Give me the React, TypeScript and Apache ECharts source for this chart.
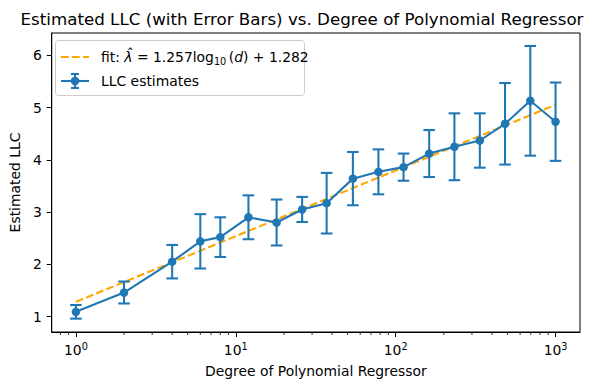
import React, { useEffect, useRef } from "react";
import * as echarts from "echarts";

// ---- data ----
const degrees = [1, 2, 4, 6, 8, 12, 18, 26, 37, 54, 78, 112, 162, 233, 336, 483, 695, 1000];
const llcValues = [1.09, 1.46, 2.05, 2.44, 2.52, 2.9, 2.8, 3.05, 3.17, 3.64, 3.77, 3.86, 4.12, 4.25, 4.37, 4.69, 5.13, 4.73];
const llcErrors = [0.13, 0.21, 0.32, 0.52, 0.38, 0.42, 0.44, 0.24, 0.58, 0.51, 0.43, 0.26, 0.45, 0.64, 0.52, 0.78, 1.05, 0.75];
const fitX = [1, 1000];
const fitY = [1.282, 5.053];
const minorTickValues = [0.8, 0.9, 2, 3, 4, 5, 6, 7, 8, 9, 20, 30, 40, 50, 60, 70, 80, 90, 200, 300, 400, 500, 600, 700, 800, 900];
const xMin = 0.706;
const xMax = 1422;
const yMin = 0.704;
const yMax = 6.428;

const BLUE = "#1f77b4";
const ORANGE = "#ffa500";
const FONT = "DejaVu Sans";

export default function App() {
  const ref = useRef<HTMLDivElement>(null);
  useEffect(() => {
    if (!ref.current) return;
    const chart = echarts.init(ref.current, null, { renderer: "svg" });
    const mainData = degrees.map((d, i) => [d, llcValues[i]]);
    const errData = degrees.map((d, i) => [d, llcValues[i] - llcErrors[i], llcValues[i] + llcErrors[i]]);
    const fitData = fitX.map((x, i) => [x, fitY[i]]);
    const minorData = minorTickValues.map((v) => [v, yMin]);

    chart.setOption({
      animation: false,
      backgroundColor: "#fff",
      textStyle: { fontFamily: FONT, color: "#000" },
      title: {
        text: "Estimated LLC (with Error Bars) vs. Degree of Polynomial Regressor",
        left: "center",
        top: 10,
        padding: [0, 0, 0, 24],
        textStyle: { fontFamily: FONT, fontSize: 16.7, fontWeight: "normal", color: "#000" },
      },
      grid: {
        left: 48,
        right: 24,
        top: 33,
        bottom: 58,
        show: true,
        borderColor: "#000",
        borderWidth: 1,
        backgroundColor: "transparent",
      },
      xAxis: {
        type: "log",
        logBase: 10,
        min: xMin,
        max: xMax,
        name: "Degree of Polynomial Regressor",
        nameLocation: "middle",
        nameGap: 32,
        nameTextStyle: { fontFamily: FONT, fontSize: 13.9, color: "#000" },
        axisLine: { show: true, lineStyle: { color: "#000", width: 1 } },
        axisTick: { show: true, length: 5, lineStyle: { color: "#000", width: 1 } },
        axisLabel: {
          show: true,
          margin: 9,
          showMinLabel: false,
          showMaxLabel: false,
          fontFamily: FONT,
          fontSize: 13.9,
          color: "#000",
          formatter: (v: number) => "{b|10}{s|" + Math.round(Math.log10(v)) + "}",
          rich: {
            b: { fontFamily: FONT, fontSize: 13.9, lineHeight: 18, color: "#000" },
            s: { fontFamily: FONT, fontSize: 9.7, lineHeight: 9, verticalAlign: "top", color: "#000" },
          },
        },
        splitLine: { show: false },
        minorTick: { show: false },
      },
      yAxis: {
        type: "value",
        min: yMin,
        max: yMax,
        name: "Estimated LLC",
        nameLocation: "middle",
        nameRotate: 90,
        nameGap: 24,
        nameTextStyle: { fontFamily: FONT, fontSize: 13.9, color: "#000" },
        axisLine: { show: true, lineStyle: { color: "#000", width: 1 } },
        axisTick: { show: true, length: 5, lineStyle: { color: "#000", width: 1 } },
        axisLabel: {
          show: true,
          margin: 10,
          showMinLabel: false,
          showMaxLabel: false,
          fontFamily: FONT,
          fontSize: 13.9,
          color: "#000",
        },
        splitLine: { show: false },
      },
      series: [
        {
          name: "fit",
          type: "line",
          data: fitData,
          symbol: "none",
          lineStyle: { color: ORANGE, width: 2.08, type: [7.7, 3.3] },
          z: 2,
        },
        {
          name: "errors",
          type: "custom",
          data: errData,
          encode: { x: 0, y: [1, 2] },
          z: 3,
          renderItem: (params: any, api: any) => {
            const x = api.value(0);
            const pLo = api.coord([x, api.value(1)]);
            const pHi = api.coord([x, api.value(2)]);
            const hw = 5.8;
            const style = { stroke: BLUE, lineWidth: 2.08, fill: null };
            return {
              type: "group",
              children: [
                { type: "line", shape: { x1: pHi[0], y1: pHi[1], x2: pLo[0], y2: pLo[1] }, style },
                { type: "line", shape: { x1: pHi[0] - hw, y1: pHi[1], x2: pHi[0] + hw, y2: pHi[1] }, style },
                { type: "line", shape: { x1: pLo[0] - hw, y1: pLo[1], x2: pLo[0] + hw, y2: pLo[1] }, style },
              ],
            };
          },
        },
        {
          name: "LLC estimates",
          type: "line",
          data: mainData,
          symbol: "circle",
          symbolSize: 8.5,
          itemStyle: { color: BLUE, borderWidth: 0 },
          lineStyle: { color: BLUE, width: 2.08 },
          z: 4,
        },
        {
          name: "minorTicks",
          type: "custom",
          data: minorData,
          encode: { x: 0, y: 1 },
          clip: false,
          silent: true,
          z: 5,
          renderItem: (params: any, api: any) => {
            const p = api.coord([api.value(0), api.value(1)]);
            return {
              type: "line",
              shape: { x1: p[0], y1: p[1], x2: p[0], y2: p[1] + 3 },
              style: { stroke: "#000", lineWidth: 0.8 },
            };
          },
        },
      ],
      graphic: [
        {
          type: "rect",
          z: 100,
          shape: { x: 55.5, y: 40.5, width: 249, height: 55, r: 3 },
          style: { fill: "rgba(255,255,255,0.8)", stroke: "#cccccc", lineWidth: 1 },
        },
        {
          type: "line",
          z: 101,
          shape: { x1: 61, y1: 57, x2: 89, y2: 57 },
          style: { stroke: ORANGE, lineWidth: 2.08, lineDash: [7.7, 3.3] },
        },
        {
          type: "text",
          z: 101,
          x: 101,
          y: 57,
          style: {
            text: "{n|fit: }{i|λ̂}{n| = 1.257log}{s|10}{sp| }{n|(}{i|d}{n|) + 1.282}",
            verticalAlign: "middle",
            align: "left",
            fill: "#000",
            rich: {
              n: { fontFamily: FONT, fontSize: 13.9, lineHeight: 18, fill: "#000", color: "#000" },
              i: { fontFamily: FONT, fontSize: 13.9, fontStyle: "italic", lineHeight: 18, fill: "#000", color: "#000" },
              s: { fontFamily: FONT, fontSize: 9.7, lineHeight: 11, verticalAlign: "bottom", fill: "#000", color: "#000" },
              sp: { fontFamily: FONT, fontSize: 8, lineHeight: 18, fill: "#000", color: "#000" },
            },
          },
        },
        {
          type: "line",
          z: 101,
          shape: { x1: 61, y1: 81, x2: 89, y2: 81 },
          style: { stroke: BLUE, lineWidth: 2.08 },
        },
        {
          type: "line",
          z: 101,
          shape: { x1: 75, y1: 74, x2: 75, y2: 88 },
          style: { stroke: BLUE, lineWidth: 2.08 },
        },
        {
          type: "line",
          z: 101,
          shape: { x1: 71, y1: 74, x2: 79, y2: 74 },
          style: { stroke: BLUE, lineWidth: 2.08 },
        },
        {
          type: "line",
          z: 101,
          shape: { x1: 71, y1: 88, x2: 79, y2: 88 },
          style: { stroke: BLUE, lineWidth: 2.08 },
        },
        {
          type: "circle",
          z: 102,
          shape: { cx: 75, cy: 81, r: 4.25 },
          style: { fill: BLUE },
        },
        {
          type: "text",
          z: 101,
          x: 101,
          y: 81,
          style: {
            text: "LLC estimates",
            verticalAlign: "middle",
            align: "left",
            fill: "#000",
            fontFamily: FONT,
            fontSize: 13.9,
          },
        },
      ],
    });
    return () => chart.dispose();
  }, []);
  return (
    <div
      ref={ref}
      style={{ position: "absolute", left: 0, top: 0, width: 604, height: 390 }}
    />
  );
}
